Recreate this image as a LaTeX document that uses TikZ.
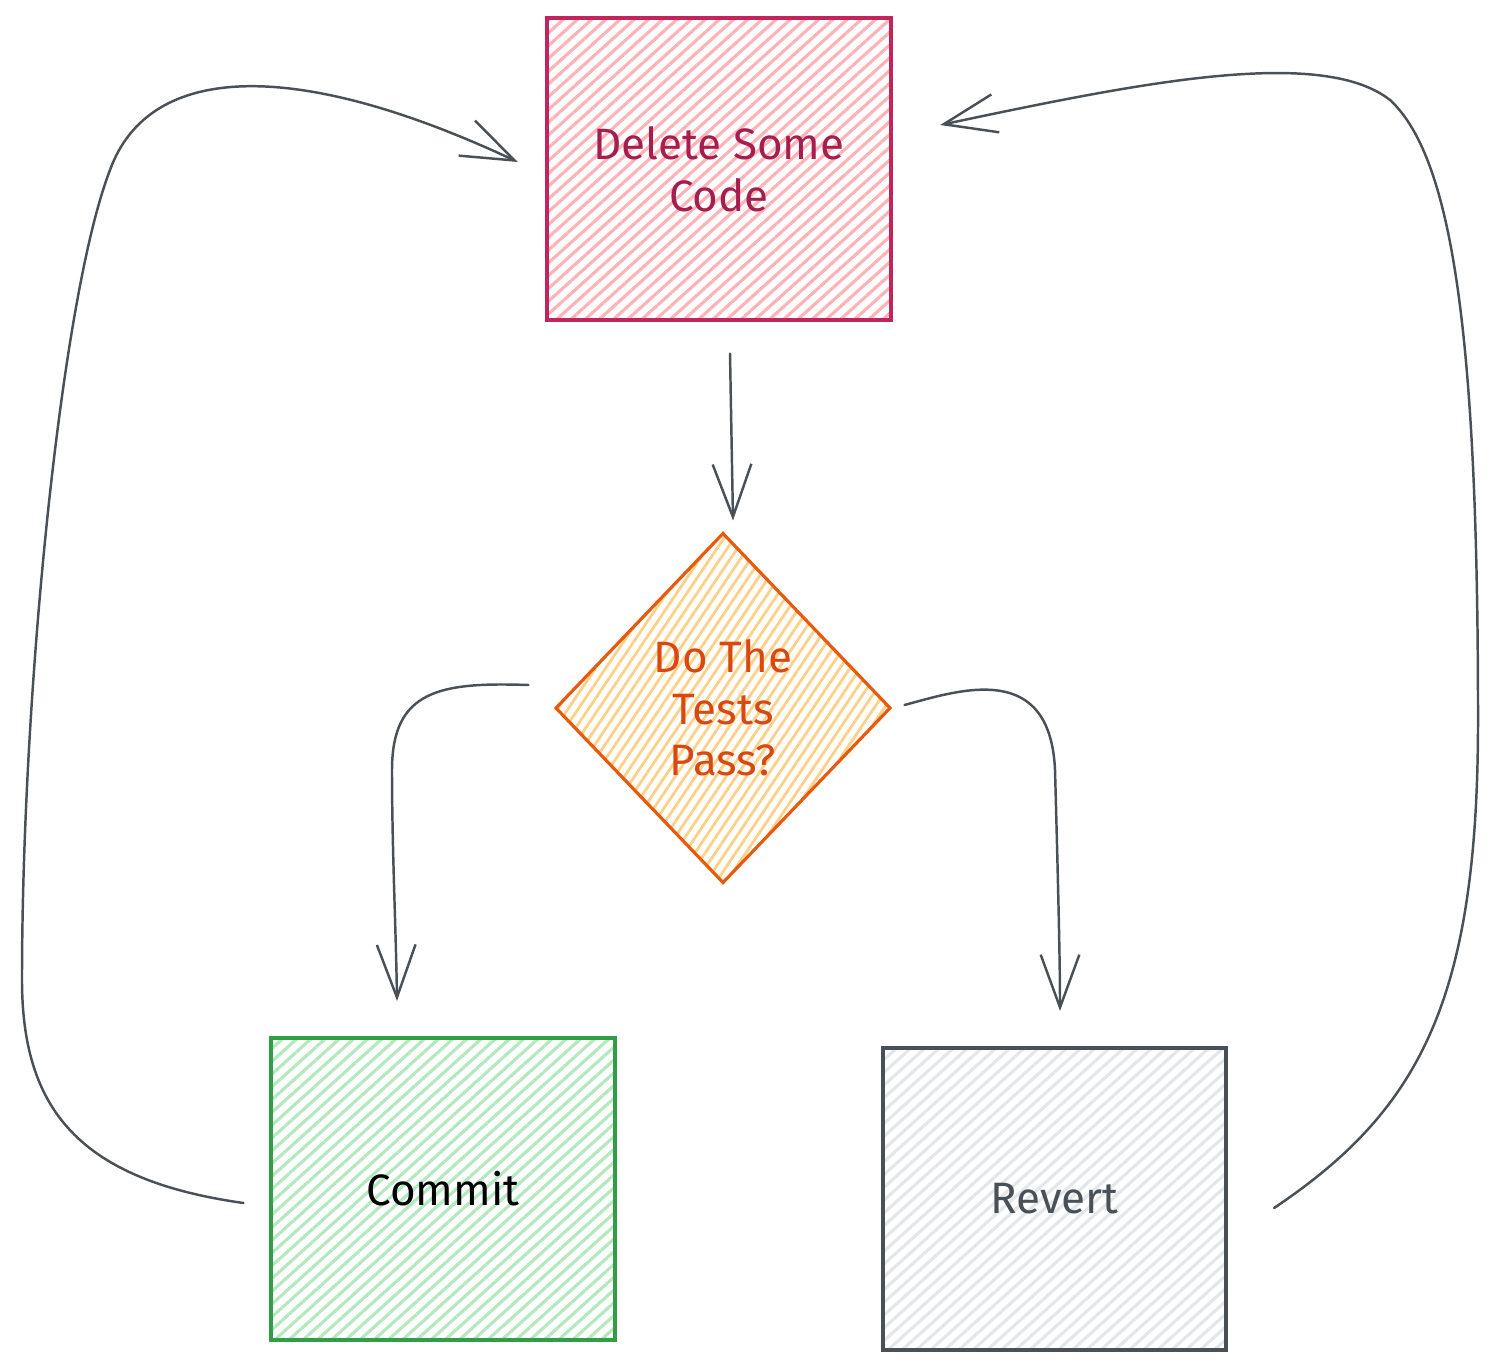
\documentclass[tikz,border=0pt]{standalone}
\usepackage{fontspec}
\setmainfont{Fira Sans}
\usetikzlibrary{arrows.meta,positioning,shapes.geometric,patterns.meta}
\definecolor{delline}{HTML}{C2255C}
\definecolor{delhatch}{HTML}{FFB3B6}
\definecolor{deltext}{HTML}{A61E4D}
\definecolor{testline}{HTML}{E8590C}
\definecolor{testhatch}{HTML}{FFD08A}
\definecolor{testtext}{HTML}{D9480F}
\definecolor{comline}{HTML}{2F9E44}
\definecolor{comhatch}{HTML}{B4E9BE}
\definecolor{revline}{HTML}{495057}
\definecolor{revhatch}{HTML}{E4E7EA}
\definecolor{flowgray}{HTML}{495057}

\begin{document}
\begin{tikzpicture}[x=0.01cm, y=-0.01cm, >={Straight Barb[length=15pt,width=11pt]},
    hatch/.style={pattern={Lines[angle=42,distance=2.7pt,line width=0.9pt]}, pattern color=#1},
    box/.style={draw, line width=1.1pt, minimum width=3.43cm, minimum height=3.02cm,
      font=\fontsize{12.5}{14.7}\selectfont, align=center},
    flow/.style={->, line width=0.7pt, draw=flowgray, line cap=round}]
    \useasboundingbox (0,0) rectangle (1498,1370);

    \node[box, draw=delline, hatch=delhatch, text=deltext] (del) at (719,169) {Delete Some\\Code};
    \node[diamond, draw=testline, line width=0.9pt, text=testtext,
      pattern={Lines[angle=56,distance=2.4pt,line width=0.8pt]}, pattern color=testhatch,
      minimum width=3.35cm, minimum height=3.5cm, inner sep=0pt,
      font=\fontsize{12.5}{14.7}\selectfont, align=center] (tests) at (723,708) {Do The\\Tests\\Pass?};
    \node[box, draw=comline, hatch=comhatch, text=black] (com) at (443,1189) {Commit};
    \node[box, draw=revline, hatch=revhatch, text=revline] (rev) at (1054.5,1199) {Revert};

    \draw[flow] ([shift={(11,32)}]del.south) -- ([shift={(10,-11)}]tests.north);
    \draw[flow] ([shift={(-25.5,-23)}]tests.west) .. controls (440,682) and (392,690) .. (392,770)
      .. controls (392,850) and (396,930) .. ([shift={(-46,-35)}]com.north);
    \draw[flow] ([shift={(12.5,-3)}]tests.east) .. controls (960,690) and (1050,660) .. (1055,770)
      .. controls (1058,880) and (1060,960) .. ([shift={(5.5,-35)}]rev.north);
    \draw[flow] ([shift={(-26,14)}]com.west) .. controls (80,1180) and (22,1110) .. (22,980)
      .. controls (22,700) and (60,300) .. (110,170)
      .. controls (150,60) and (300,60) .. ([shift={(-28,-7)}]del.west);
    \draw[flow] ([shift={(46,9)}]rev.east) .. controls (1420,1110) and (1478,1000) .. (1478,720)
      .. controls (1478,350) and (1455,160) .. (1390,100)
      .. controls (1320,45) and (1130,85) .. ([shift={(48,-44)}]del.east);
\end{tikzpicture}
\end{document}
